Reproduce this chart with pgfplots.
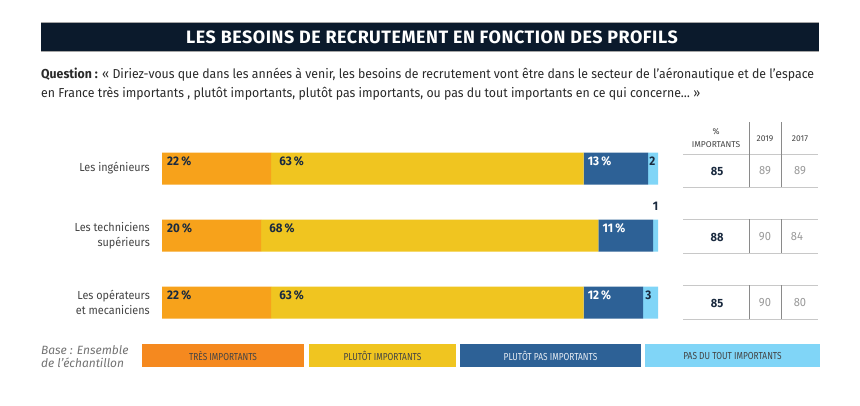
\documentclass[border=0pt]{standalone}
\usepackage{fontspec}
\setmainfont[FakeStretch=0.93]{Fira Sans}
\newfontfamily\qfont[FakeStretch=0.95]{Fira Sans}
\newfontfamily\legfont[FakeStretch=0.82]{Fira Sans}
\newfontfamily\tabfont{Fira Sans}
\newfontfamily\titlefont[LetterSpace=3]{Fira Sans}
\usepackage{pgfplots}
\pgfplotsset{compat=1.18}
\definecolor{titlebg}{HTML}{0B1A2C}
\definecolor{corange}{HTML}{F7A21B}
\definecolor{legorange}{HTML}{F5891F}
\definecolor{cyellow}{HTML}{F0C520}
\definecolor{cblue}{HTML}{2D6196}
\definecolor{clight}{HTML}{80D5F7}
\definecolor{navy}{HTML}{1A2A3F}
\definecolor{txt}{HTML}{2A2A2A}
\definecolor{labgray}{HTML}{444444}
\definecolor{numgray}{HTML}{9A9A9A}
\definecolor{hline}{HTML}{C8C8C8}
\definecolor{vline}{HTML}{8A8A8A}
\tikzset{lab/.style={anchor=west, inner sep=0pt, yshift=7bp, font=\bfseries\fontsize{12.5}{13}\selectfont, text=navy}}
\begin{document}
\begin{tikzpicture}
\begin{scope}[x=1bp,y=-1bp]
\fill[white] (0,0) rectangle (860,405);
% title
\fill[titlebg] (41,22) rectangle (819,51);
\draw[black!35, line width=0.8bp] (41,22)--(819,22) (41,51)--(819,51);
\node[text=white, font=\titlefont\bfseries\fontsize{18}{20}\selectfont, inner sep=0] at (432,37) {LES BESOINS DE RECRUTEMENT EN FONCTION DES PROFILS};
% question
\node[anchor=base west, inner sep=0, font=\qfont\fontsize{13}{15}\selectfont, text=txt] at (41,78) {\textbf{Question :} « Diriez-vous que dans les années à venir, les besoins de recrutement vont être dans le secteur de l’aéronautique et de l’espace};
\node[anchor=base west, inner sep=0, font=\qfont\fontsize{13}{15}\selectfont, text=txt] at (41,97) {en France très importants , plutôt importants, plutôt pas importants, ou pas du tout importants en ce qui concerne… »};
\end{scope}
% chart
\begin{axis}[
  at={(162bp,-135bp)}, anchor=north west,
  scale only axis, width=496bp, height=201bp,
  xmin=0, xmax=100, ymin=-0.5, ymax=2.5, y dir=reverse,
  xbar stacked, bar width=32bp,
  ytick={0,1,2},
  yticklabels={Les ingénieurs, {Les techniciens\\supérieurs}, {Les opérateurs\\et mecaniciens}},
  xtick=\empty,
  axis line style={draw=none}, tick style={draw=none}, major tick length=0pt,
  clip=false,
  yticklabel style={align=right, font=\fontsize{11.7}{15.5}\selectfont, text=labgray, inner sep=0pt, xshift=-12bp},
]
\addplot[fill=corange, draw=none] coordinates {(22,0) (20,1) (22,2)};
\addplot[fill=cyellow, draw=none] coordinates {(63,0) (68,1) (63,2)};
\addplot[fill=cblue, draw=none] coordinates {(13,0) (11,1) (12,2)};
\addplot[fill=clight, draw=none] coordinates {(2,0) (1,1) (3,2)};
\coordinate (a0) at (axis cs:0,0);  \coordinate (b0) at (axis cs:22,0);
\coordinate (c0) at (axis cs:85,0); \coordinate (d0) at (axis cs:98,0);
\coordinate (a1) at (axis cs:0,1);  \coordinate (b1) at (axis cs:20,1);
\coordinate (c1) at (axis cs:88,1); \coordinate (d1) at (axis cs:99.5,1);
\coordinate (a2) at (axis cs:0,2);  \coordinate (b2) at (axis cs:22,2);
\coordinate (c2) at (axis cs:85,2); \coordinate (d2) at (axis cs:97,2);
\end{axis}
% bar labels
\node[lab, xshift=5bp] at (a0) {22\,\%};
\node[lab, xshift=8bp] at (b0) {63\,\%};
\node[lab, xshift=4bp, text=white] at (c0) {13\,\%};
\node[lab, xshift=1bp] at (d0) {2};
\node[lab, xshift=5bp] at (a1) {20\,\%};
\node[lab, xshift=8bp] at (b1) {68\,\%};
\node[lab, xshift=4bp, text=white] at (c1) {11\,\%};
\node[lab, anchor=south, yshift=18bp] at (d1) {1};
\node[lab, xshift=5bp] at (a2) {22\,\%};
\node[lab, xshift=8bp] at (b2) {63\,\%};
\node[lab, xshift=4bp, text=white] at (c2) {12\,\%};
\node[lab, xshift=2bp] at (d2) {3};
\begin{scope}[x=1bp,y=-1bp]
% table
\draw[hline, line width=0.7bp] (683,154)--(818,154) (683,187)--(818,187) (683,219)--(818,219) (683,253)--(818,253) (683,285)--(818,285) (683,319)--(818,319);
\draw[vline, line width=0.6bp] (749,122)--(749,187) (749,219)--(749,253) (749,285)--(749,319)
  (781,122)--(781,187) (781,219)--(781,253) (781,285)--(781,319);
\tikzset{hd/.style={inner sep=0pt, font=\tabfont\fontsize{8.5}{10}\selectfont, text=labgray}}
\node[hd] at (716,132) {\%};
\node[hd] at (716,145) {IMPORTANTS};
\node[hd] at (765,139) {2019};
\node[hd] at (800,139) {2017};
\tikzset{bv/.style={inner sep=0pt, font=\bfseries\fontsize{12}{13}\selectfont, text=navy},
        gv/.style={inner sep=0pt, font=\fontsize{12}{13}\selectfont, text=numgray}}
\node[bv] at (717,171) {85}; \node[gv] at (765,171) {89}; \node[gv] at (800,171) {89};
\node[bv] at (717,237) {88}; \node[gv] at (765,237) {90}; \node[gv] at (797,237) {84};
\node[bv] at (717,303) {85}; \node[gv] at (765,303) {90}; \node[gv] at (800,303) {80};
% legend
\tikzset{lg/.style={inner sep=0pt, font=\legfont\fontsize{10.2}{11}\selectfont}}
\fill[legorange] (142,344) rectangle (304,367);
\node[lg, text=labgray] at (223,355.5) {TRÈS IMPORTANTS};
\fill[cyellow] (309,344) rectangle (456,367);
\node[lg, text=labgray] at (382.5,355.5) {PLUTÔT IMPORTANTS};
\fill[cblue] (460,344) rectangle (641,367);
\node[lg, text=white!88!cblue] at (550.5,355.5) {PLUTÔT PAS IMPORTANTS};
\fill[clight] (645,344) rectangle (820,367);
\node[lg, text=labgray] at (732.5,355.5) {PAS DU TOUT IMPORTANTS};
\node[anchor=base west, inner sep=0pt, font=\tabfont\itshape\fontsize{12}{13}\selectfont, text=black!55] at (41,354) {Base : Ensemble};
\node[anchor=base west, inner sep=0pt, font=\tabfont\itshape\fontsize{12}{13}\selectfont, text=black!55] at (41,367) {de l’échantillon};
\end{scope}
\end{tikzpicture}
\end{document}
